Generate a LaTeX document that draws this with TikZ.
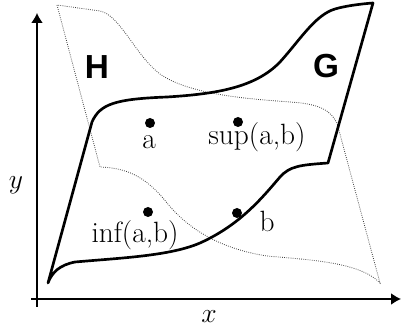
\documentclass[tikz,border=0pt]{standalone}
\usepackage{fontspec}
\newfontfamily\regionfont{Liberation Sans}
\usetikzlibrary{arrows.meta}
\begin{document}
\begin{tikzpicture}[x=0.75pt,y=-0.75pt,
    every node/.style={font=\fontsize{22}{26}\selectfont, inner sep=0pt},
    axis/.style={line width=1.2pt, -{Latex[length=7.5pt,width=9pt]}},
    region/.style={font=\regionfont\bfseries\fontsize{25}{30}\selectfont},
    elem/.style={circle, fill=black, minimum size=7.5pt}]
  \useasboundingbox (0,0) rectangle (401,331);
  \draw[black!75, line width=0.6pt, densely dotted] (57,5) -- (100,167)
    .. controls (125,168) and (145,175) .. (167,203)
    .. controls (185,225) and (215,248) .. (267,256)
    .. controls (310,260) and (360,262) .. (380,283)
    -- (337,123)
    .. controls (330,110) and (320,104) .. (290,102)
    .. controls (250,99) and (190,95) .. (160,74)
    .. controls (135,55) and (120,15) .. (100,11)
    -- cycle;
  \draw[line width=2pt, line join=round] (48,283) -- (92,122)
    .. controls (100,104) and (115,99) .. (167,97)
    .. controls (215,94) and (255,88) .. (280,62)
    .. controls (300,40) and (315,15) .. (335,9)
    .. controls (345,6) and (360,4) .. (373,3)
    -- (328,163)
    .. controls (300,165) and (290,166) .. (280,177)
    .. controls (262,198) and (240,225) .. (200,243)
    .. controls (170,256) and (120,258) .. (75,262)
    .. controls (60,265) and (52,272) .. (48,283) -- cycle;
  \draw[axis] (37,307) -- (37,13);
  \draw[axis] (31,299) -- (401,299);
  \node (ylab) at (16,185) {$y$};
  \node (xlab) at (209,317) {$x$};
  \node[region] (H) at (97,67) {H};
  \node[region] (G) at (326,66) {G};
  \node[elem] (a) at (150,123) {};
  \node[elem] (sup) at (238,122) {};
  \node[elem] (inf) at (148,212) {};
  \node[elem] (b) at (237,213) {};
  \node[anchor=base] (alab) at (149,149) {a};
  \node[anchor=base] (suplab) at (257,145) {sup(a,b)};
  \node[anchor=base] (inflab) at (135,243) {inf(a,b)};
  \node[anchor=base] (blab) at (267,232) {b};
\end{tikzpicture}
\end{document}
